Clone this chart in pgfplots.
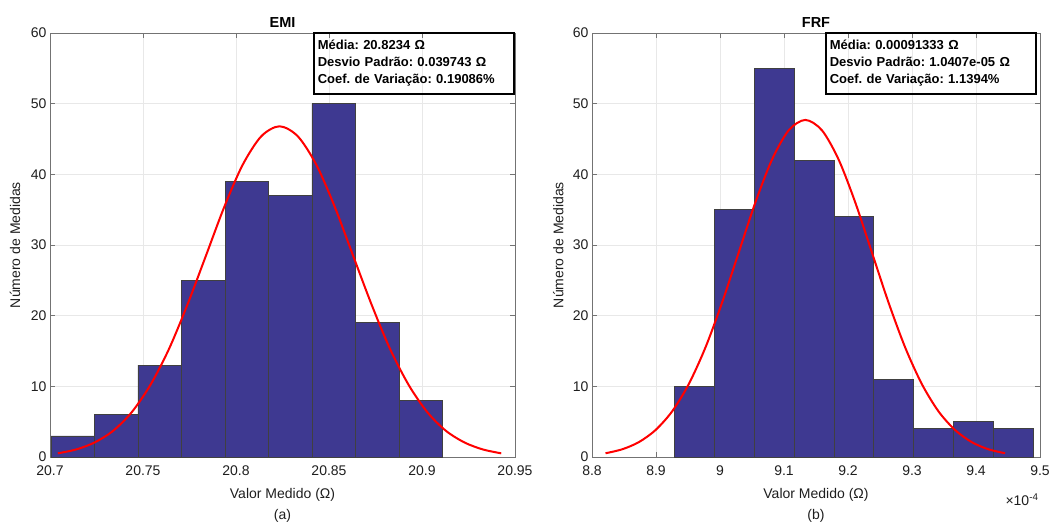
\documentclass[border=0pt]{standalone}
\usepackage{fontspec}
\setmainfont{Liberation Sans}
\usepackage{pgfplots}
\pgfplotsset{compat=1.18}
\frenchspacing

\definecolor{barblue}{RGB}{62,57,145}
\definecolor{axisgray}{RGB}{115,115,115}
\definecolor{labgray}{RGB}{30,30,30}

\pgfplotsset{hist/.style={
  scale only axis, height=424pt, ymin=0, ymax=60,
  ytick={0,10,...,60}, yticklabels={0,10,20,30,40,50,60},
  grid=major, major grid style={gray!18, line width=0.6pt},
  axis line style={axisgray, line width=0.8pt},
  tick style={axisgray, line width=0.8pt}, major tick length=5pt,
  tick label style={font=\fontsize{14}{16}\selectfont, text=labgray},
  xticklabel style={yshift=-5pt},
  label style={font=\fontsize{14}{16}\selectfont, text=labgray},
  xlabel style={at={(axis description cs:0.5,-0.09)}, anchor=center},
  ylabel style={at={(axis description cs:-0.075,0.5)}, anchor=center},
  xlabel={Valor Medido (Ω)},
  ylabel={Número de Medidas},
}}

\begin{document}
\begin{tikzpicture}
\useasboundingbox (0,0) rectangle (1050pt,-525pt);

% (a) EMI
\begin{axis}[hist, at={(50pt,-457pt)}, anchor=south west, width=465pt,
  xmin=20.7, xmax=20.95,
  xtick={20.7,20.75,20.8,20.85,20.9,20.95},
  xticklabels={20.7,20.75,20.8,20.85,20.9,20.95}]
\addplot[ybar interval, fill=barblue, draw=black!75, line width=0.6pt] coordinates
  {(20.7005,3) (20.7239,6) (20.7473,13) (20.7707,25) (20.7941,39)
   (20.8175,37) (20.8408,50) (20.8642,19) (20.8876,8) (20.9110,0)};
\addplot[red, line width=2pt, smooth] coordinates
  {(20.7042,0.52) (20.7141,1.07) (20.7240,2.06) (20.7340,3.72) (20.7439,6.33)
   (20.7538,10.12) (20.7638,15.19) (20.7737,21.43) (20.7837,28.39) (20.7936,35.33)
   (20.8035,41.30) (20.8135,45.36) (20.8234,46.80) (20.8333,45.36) (20.8433,41.30)
   (20.8532,35.33) (20.8631,28.39) (20.8731,21.43) (20.8830,15.19) (20.8930,10.12)
   (20.9029,6.33) (20.9128,3.72) (20.9228,2.06) (20.9327,1.07) (20.9426,0.52)};
\end{axis}

% (b) FRF
\begin{axis}[hist, at={(592pt,-457pt)}, anchor=south west, width=448pt,
  xmin=8.8, xmax=9.5,
  xtick={8.8,8.9,9.0,9.1,9.2,9.3,9.4,9.5},
  xticklabels={8.8,8.9,9,9.1,9.2,9.3,9.4,9.5}]
\addplot[ybar interval, fill=barblue, draw=black!75, line width=0.6pt] coordinates
  {(8.9286,10) (8.9909,35) (9.0532,55) (9.1156,42) (9.1779,34)
   (9.2402,11) (9.3025,4) (9.3648,5) (9.4272,4) (9.4895,0)};
\addplot[red, line width=2pt, smooth] coordinates
  {(8.8211,0.53) (8.8471,1.09) (8.8731,2.10) (8.8991,3.80) (8.9252,6.46)
   (8.9512,10.32) (8.9772,15.49) (9.0032,21.84) (9.0292,28.93) (9.0552,36.01)
   (9.0813,42.10) (9.1073,46.23) (9.1333,47.70) (9.1593,46.23) (9.1853,42.10)
   (9.2114,36.01) (9.2374,28.93) (9.2634,21.84) (9.2894,15.49) (9.3154,10.32)
   (9.3414,6.46) (9.3675,3.80) (9.3935,2.10) (9.4195,1.09) (9.4455,0.53)};
\end{axis}

% titles, captions, exponent
\node[font=\fontsize{14.5}{16}\selectfont\bfseries] at (282.5pt,-22.5pt) {EMI};
\node[font=\fontsize{14.5}{16}\selectfont\bfseries] at (816pt,-22.5pt) {FRF};
\node[font=\fontsize{14}{16}\selectfont, text=labgray] at (282.5pt,-516pt) {(a)};
\node[font=\fontsize{14}{16}\selectfont, text=labgray] at (816pt,-516pt) {(b)};
\node[font=\fontsize{14}{16}\selectfont, text=labgray] at (1022pt,-500pt) {×10\textsuperscript{-4}};

% statistics boxes
\node[draw=black, line width=1.5pt, anchor=north west, minimum width=200pt,
  minimum height=61pt, text width=192pt, inner xsep=4pt, align=left,
  font=\fontsize{13}{17}\selectfont\bfseries] at (313pt,-32pt)
  {Média: 20.8234 Ω\\Desvio Padrão: 0.039743 Ω\\Coef. de Variação: 0.19086\%};
\node[draw=black, line width=1.5pt, anchor=north west, minimum width=210pt,
  minimum height=61pt, text width=202pt, inner xsep=4pt, align=left,
  font=\fontsize{13}{17}\selectfont\bfseries] at (825pt,-32pt)
  {Média: 0.00091333 Ω\\Desvio Padrão: 1.0407e-05 Ω\\Coef. de Variação: 1.1394\%};
\end{tikzpicture}
\end{document}
